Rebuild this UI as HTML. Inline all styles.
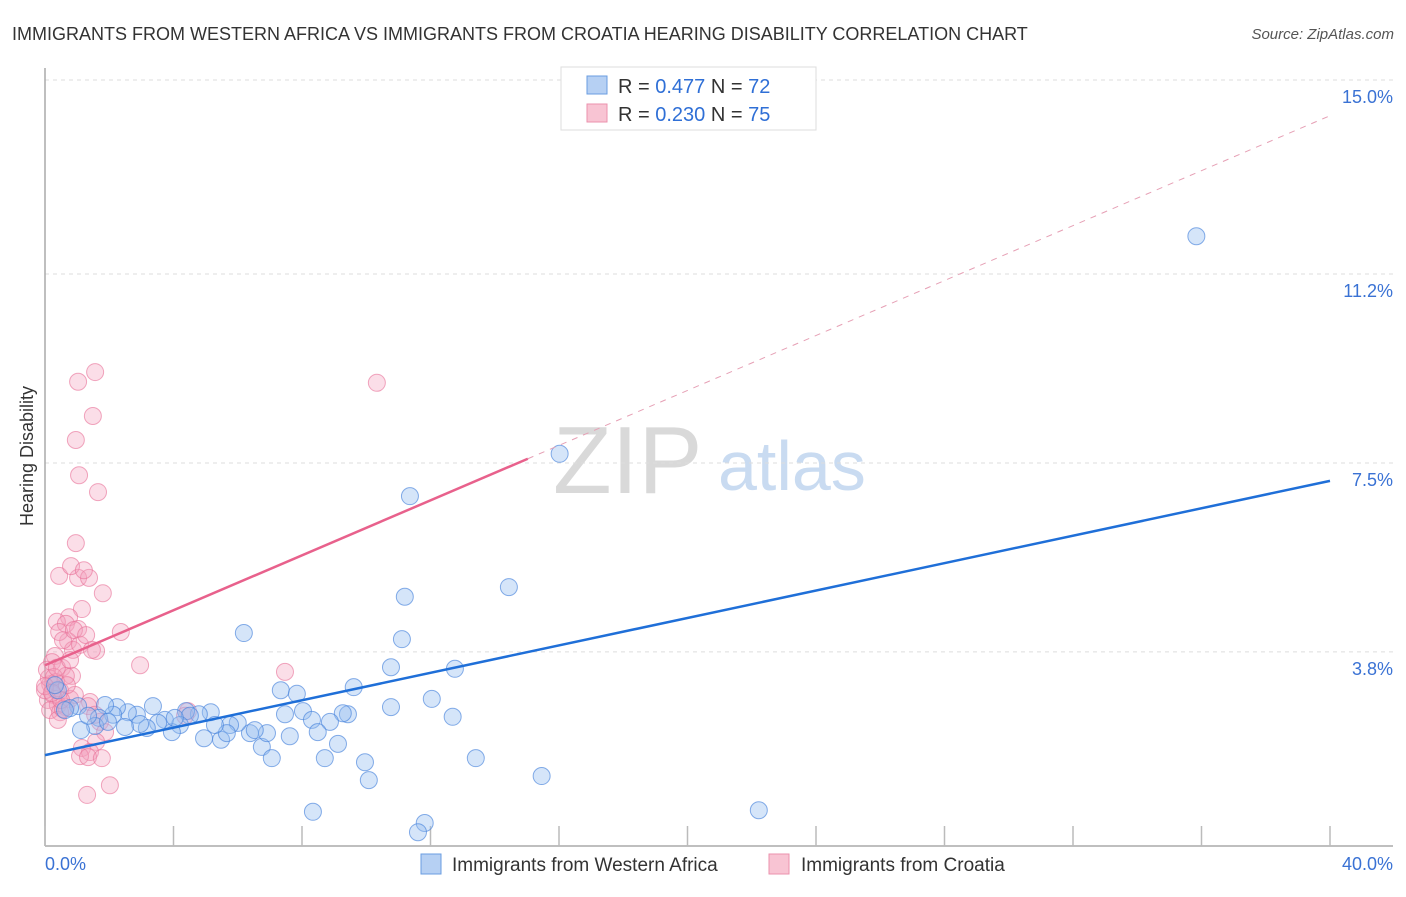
<!DOCTYPE html>
<html><head><meta charset="utf-8"><style>
body{margin:0;background:#fff;font-family:"Liberation Sans",sans-serif;}
svg text{font-family:"Liberation Sans",sans-serif;}
</style></head><body>
<svg id="chart" width="1406" height="892" viewBox="0 0 1406 892" xmlns="http://www.w3.org/2000/svg">
<text x="12" y="40" font-size="18" fill="#333">IMMIGRANTS FROM WESTERN AFRICA VS IMMIGRANTS FROM CROATIA HEARING DISABILITY CORRELATION CHART</text>
<text x="1394" y="39" font-size="15" fill="#555" font-style="italic" text-anchor="end">Source: ZipAtlas.com</text>
<g>
<text x="553" y="493" font-size="96" fill="#d0d0d0" font-family="Liberation Serif" opacity="0.8">ZIP</text>
<text x="718" y="490" font-size="70" fill="#bcd3ee" opacity="0.8">atlas</text>
</g>
<g id="grid"></g>
<g id="axes"></g>
<g id="marks"></g>
<text transform="translate(33,456) rotate(-90)" font-size="18" fill="#333" text-anchor="middle">Hearing Disability</text>
<g>
<rect x="561" y="67" width="255" height="63" fill="#fff" stroke="#ddd"/>
<rect x="587" y="76" width="20" height="18" fill="#b6d0f3" stroke="#6a9de0"/>
<rect x="587" y="104" width="20" height="18" fill="#f8c4d3" stroke="#eb92ae"/>
<text x="618" y="93" font-size="20" fill="#333">R = <tspan fill="#2f6fd6">0.477</tspan>   N = <tspan fill="#2f6fd6">72</tspan></text>
<text x="618" y="121" font-size="20" fill="#333">R = <tspan fill="#2f6fd6">0.230</tspan>   N = <tspan fill="#2f6fd6">75</tspan></text>
</g>
<g>
<rect x="421" y="854" width="20" height="20" fill="#b6d0f3" stroke="#6a9de0"/>
<text x="452" y="871" font-size="19" fill="#333">Immigrants from Western Africa</text>
<rect x="769" y="854" width="20" height="20" fill="#f8c4d3" stroke="#eb92ae"/>
<text x="801" y="871" font-size="19" fill="#333">Immigrants from Croatia</text>
</g>
</svg>
<script>
const yTicks=[3.8,7.5,11.2,15.0];
const yTickLabels=["3.8%","7.5%","11.2%","15.0%"];
const xTicks=[0,4,8,12,16,20,24,28,32,36,40];
const blueX=[35.84,16.02,11.36,14.44,11.20,6.19,11.11,10.77,12.76,9.61,7.34,7.84,12.04,10.77,12.69,9.43,9.27,8.03,7.47,8.31,8.87,8.49,7.62,9.12,6.75,7.06,8.71,9.96,13.41,15.46,10.08,8.34,22.22,11.82,11.61,6.91,6.38,6.00,5.76,5.16,4.79,4.39,4.51,4.95,5.48,5.66,4.20,3.95,3.73,3.52,3.36,3.17,2.86,2.58,2.24,2.12,1.87,1.68,1.56,1.12,1.03,0.78,0.62,0.40,0.31,1.96,2.96,4.04,5.29,6.53,2.49,1.34];
const blueY=[11.94,7.68,6.85,5.07,4.88,4.17,4.05,3.50,3.47,3.11,3.05,2.98,2.88,2.72,2.53,2.58,2.60,2.64,2.58,2.47,2.43,2.23,2.15,2.00,1.94,1.72,1.72,1.64,1.72,1.37,1.29,0.67,0.70,0.45,0.27,2.21,2.21,2.41,2.37,2.62,2.58,2.64,2.55,2.11,2.08,2.21,2.37,2.23,2.47,2.41,2.74,2.31,2.57,2.62,2.72,2.57,2.76,2.51,2.35,2.27,2.74,2.70,2.66,3.05,3.15,2.43,2.39,2.51,2.37,2.27,2.33,2.55];
const pinkX=[1.56,1.03,10.33,1.49,0.96,1.06,1.65,0.96,0.44,1.03,1.37,0.81,1.21,1.80,1.15,0.75,0.37,0.65,1.03,2.36,0.72,0.44,0.87,0.56,1.59,2.96,7.47,0.31,0.22,0.53,0.84,0.65,0.16,0.34,0.47,0.25,0.09,0.40,0.65,0.78,1.40,1.34,0.16,0.47,0.00,0.12,0.06,0.34,0.40,1.71,1.87,1.59,1.15,1.40,1.09,1.34,1.77,2.02,1.31,4.45,4.36,0.56,1.56,0.93,0.68,0.28,0.00,0.37,0.78,1.09,0.90,1.28,1.46,0.50,0.22];
const pinkY=[9.28,9.09,9.07,8.42,7.95,7.26,6.93,5.93,5.29,5.25,5.25,5.48,5.40,4.95,4.64,4.48,4.39,4.35,4.25,4.19,4.01,4.19,3.84,4.03,3.82,3.54,3.41,3.72,3.60,3.49,3.33,3.33,3.17,3.05,3.04,2.96,2.86,2.76,2.72,2.88,2.82,2.74,2.66,2.62,3.05,3.29,3.45,3.21,2.47,2.43,2.23,2.04,1.92,1.84,1.76,1.74,1.72,1.19,1.00,2.64,2.55,2.68,2.57,2.96,3.15,3.31,3.13,3.49,3.64,3.94,4.23,4.13,3.84,2.86,3.00];
const blueTrend=[1.78,7.15];
const pinkTrend=[3.54,14.3];
const pinkSolidEnd=15.03;

const X0=45,X1=1330,Y0=846,PXY=51.07;
const sx=v=>X0+v*(X1-X0)/40;
const sy=v=>Y0-v*PXY;
const NS="http://www.w3.org/2000/svg";
function mk(tag,attrs,parent){const e=document.createElementNS(NS,tag);for(const k in attrs)e.setAttribute(k,attrs[k]);parent.appendChild(e);return e;}
const grid=document.getElementById('grid'),axes=document.getElementById('axes'),marks=document.getElementById('marks');
yTicks.forEach((t,i)=>{
 const l=mk('line',{x1:X0,x2:1393,y1:sy(t),y2:sy(t),stroke:'#ddd','stroke-dasharray':'4,4'},grid);
 
 
 const tx=mk('text',{x:1393,y:sy(t)+23,'font-size':18,fill:'#3a72d4','text-anchor':'end'},grid);
 tx.textContent=yTickLabels[i];
 
 
});
const ya=mk('line',{x1:X0,x2:X0,y1:68,y2:Y0,stroke:'#aaa','stroke-width':1.5},axes);


const xa=mk('line',{x1:X0,x2:1393,y1:Y0,y2:Y0,stroke:'#aaa','stroke-width':1.5},axes);


xTicks.forEach(t=>{
 const k=mk('line',{x1:sx(t),x2:sx(t),y1:826,y2:Y0,stroke:'#bbb','stroke-width':1.5},axes);
 
 
});
const xl0=mk('text',{x:45,y:870,'font-size':18,fill:'#3a72d4'},axes);xl0.textContent='0.0%';


const xl1=mk('text',{x:1393,y:870,'font-size':18,fill:'#3a72d4','text-anchor':'end'},axes);xl1.textContent='40.0%';



pinkX.forEach((x,i)=>{
 const c=mk('circle',{cx:sx(x),cy:sy(pinkY[i]),r:8.5,fill:'rgba(244,160,188,0.35)',stroke:'rgba(232,110,150,0.6)','stroke-width':1},marks);
 
 
});
blueX.forEach((x,i)=>{
 const c=mk('circle',{cx:sx(x),cy:sy(blueY[i]),r:8.5,fill:'rgba(150,190,240,0.4)',stroke:'rgba(70,130,220,0.65)','stroke-width':1},marks);
 
 
});
const pslope=(pinkTrend[1]-pinkTrend[0])/40;
const pd=mk('line',{x1:sx(pinkSolidEnd),y1:sy(pinkTrend[0]+pslope*pinkSolidEnd),x2:sx(40),y2:sy(pinkTrend[1]),stroke:'#e6a0b5','stroke-width':1,'stroke-dasharray':'6,6'},marks);


const ps=mk('line',{x1:sx(0),y1:sy(pinkTrend[0]),x2:sx(pinkSolidEnd),y2:sy(pinkTrend[0]+pslope*pinkSolidEnd),stroke:'#e8618c','stroke-width':2.5},marks);


const bl=mk('line',{x1:sx(0),y1:sy(blueTrend[0]),x2:sx(40),y2:sy(blueTrend[1]),stroke:'#1f6fd8','stroke-width':2.5},marks);


</script>
</body></html>
